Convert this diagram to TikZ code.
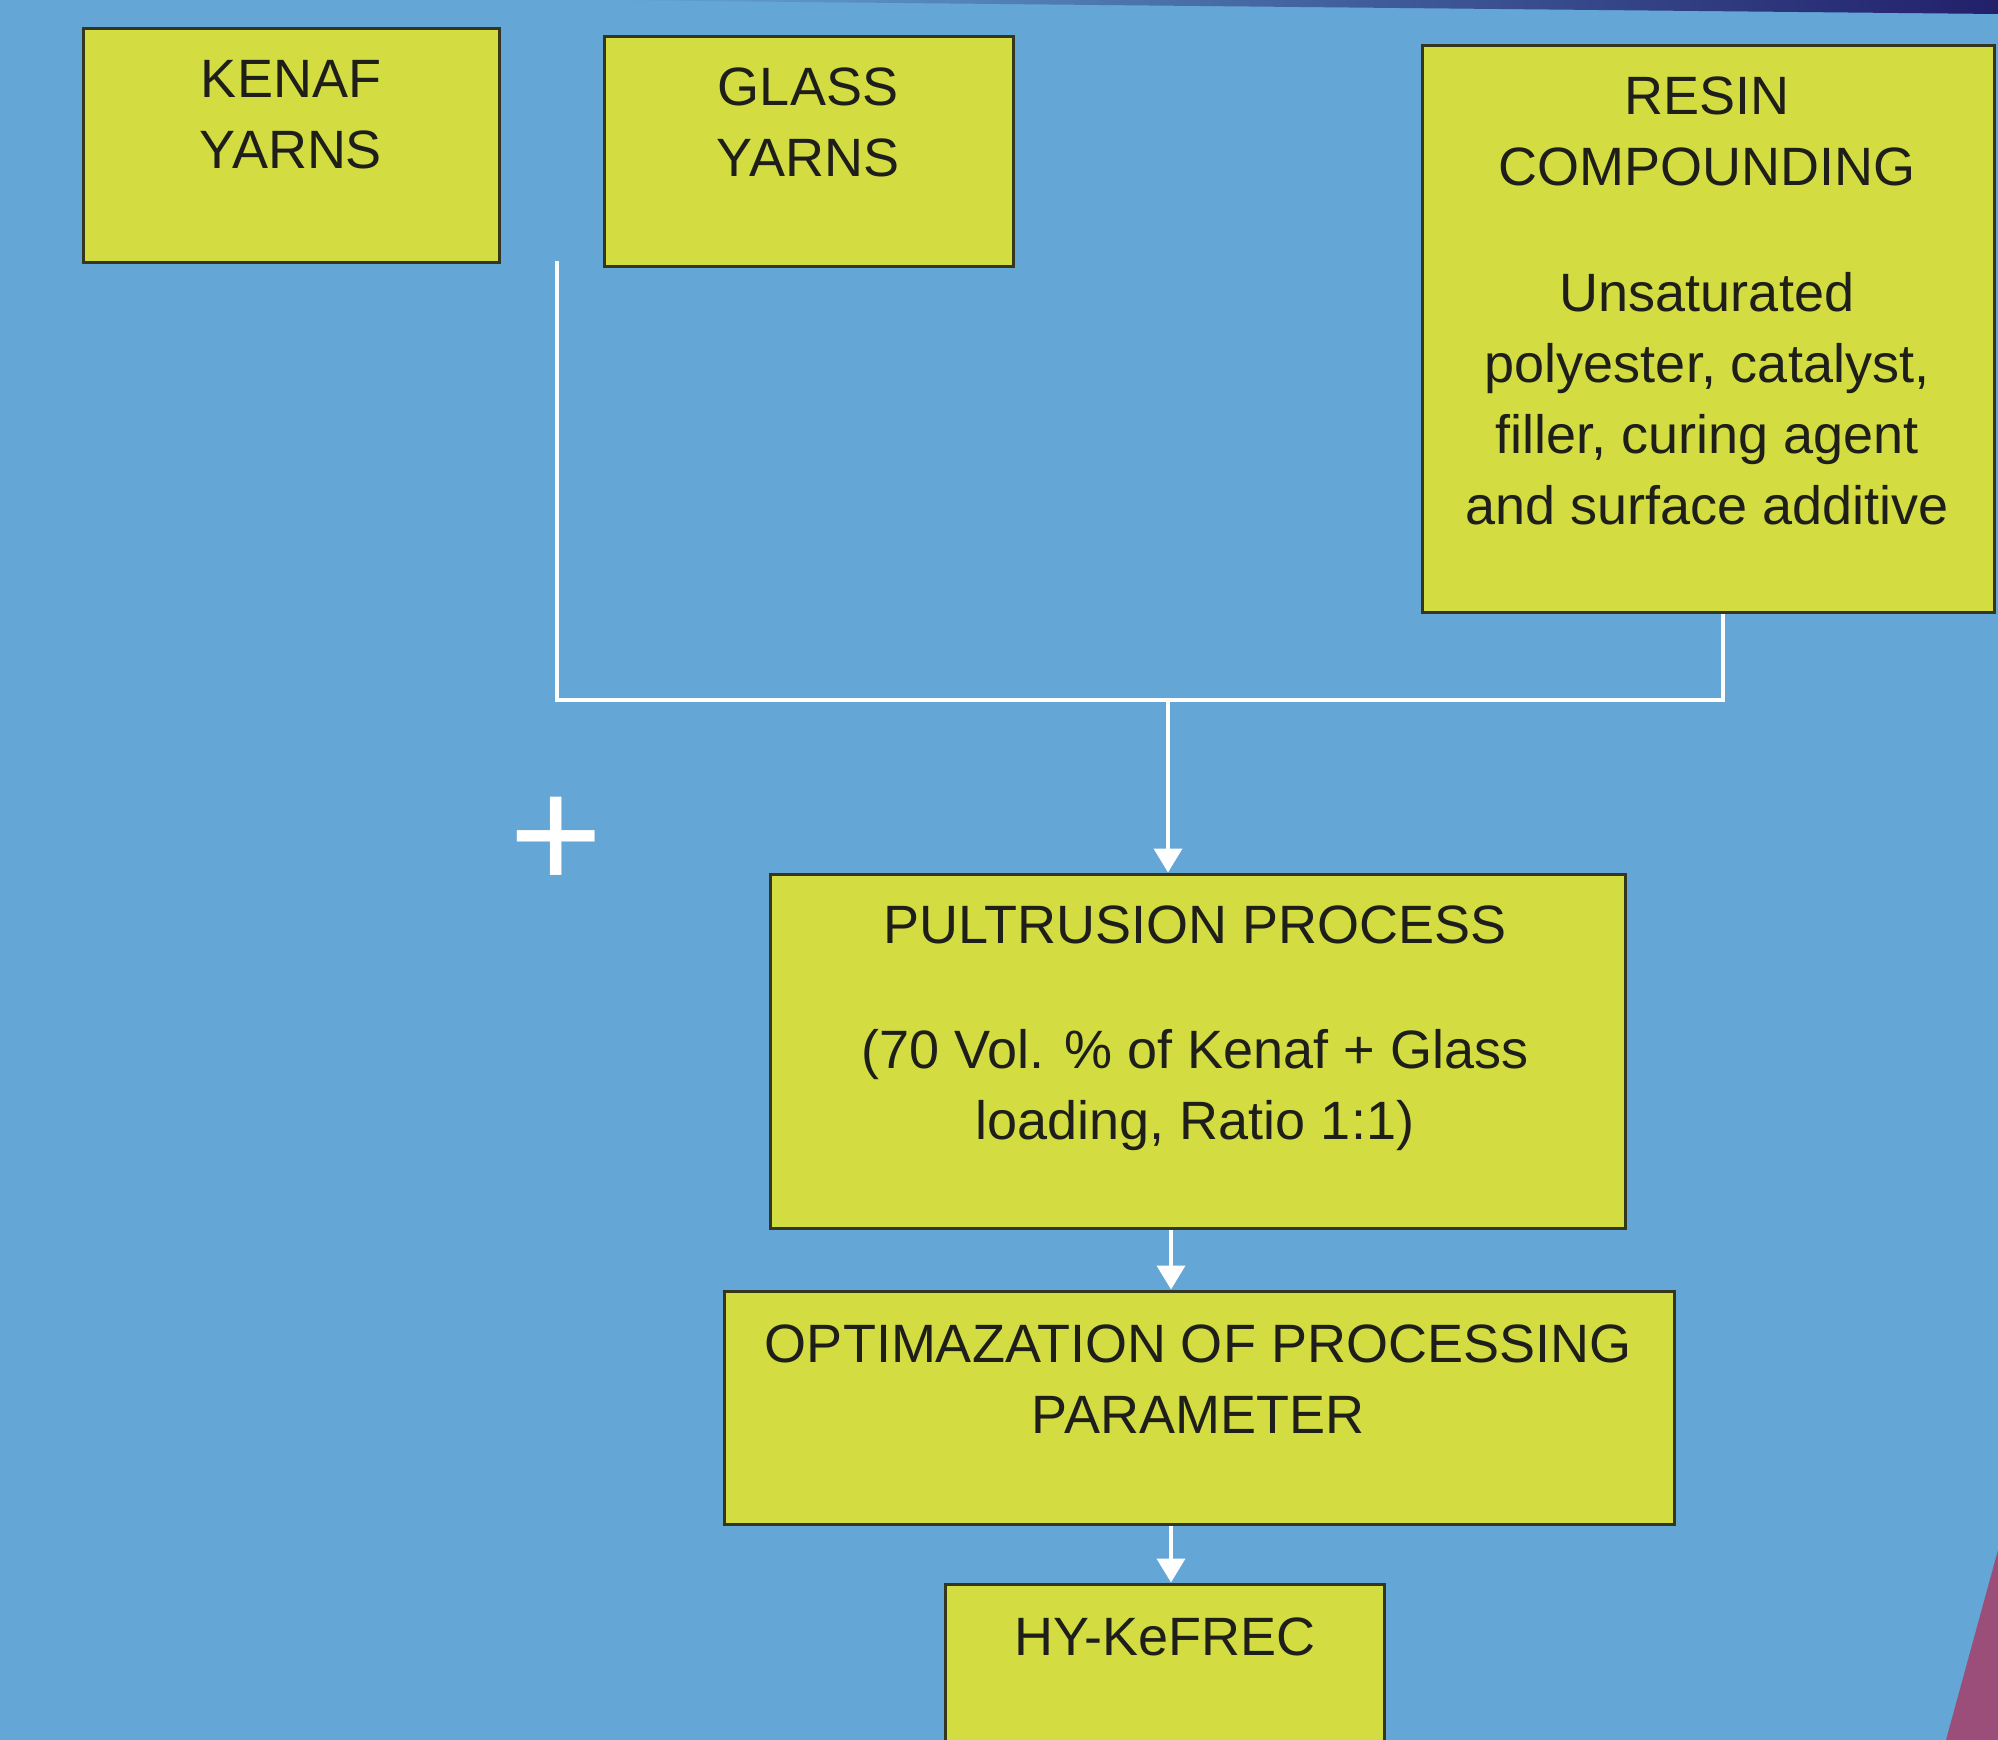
\documentclass[tikz,border=0pt]{standalone}
\usepackage{fontspec}
\setmainfont{Liberation Sans}
\usetikzlibrary{arrows.meta,calc}
\definecolor{bg}{HTML}{64A6D6}
\definecolor{navy}{HTML}{22206A}
\definecolor{boxfill}{HTML}{D3DC40}
\definecolor{boxline}{HTML}{34361E}
\definecolor{textc}{HTML}{1E1E1A}
\definecolor{pinkish}{HTML}{9B4E7A}
\begin{document}
\begin{tikzpicture}[x=0.5pt,y=-0.5pt,
  box/.style={draw=boxline, fill=boxfill, line width=1.5pt, inner sep=0pt},
  txt/.style={text=textc, font=\fontsize{27}{35.5}\selectfont, align=center, inner sep=0pt},
  wire/.style={draw=white, line width=2pt},
  arr/.style={wire, -{Triangle[width=14pt,length=12pt]}}]
\clip (0,0) rectangle (1998,1740);
\fill[bg] (0,0) rectangle (1998,1740);
\shade[left color=bg, right color=navy] (600,0) -- (1998,0) -- (1998,14) -- cycle;
\fill[pinkish] (1998,1550) -- (1998,1740) -- (1946,1740) -- cycle;

% boxes
\node[box, minimum width=208pt, minimum height=117pt] (kenaf) at (291,145) {};
\node[box, minimum width=204.5pt, minimum height=115pt] (glass) at (808.5,151) {};
\node[box, minimum width=286pt, minimum height=283.5pt] (resin) at (1708,328.5) {};
\node[box, minimum width=427.5pt, minimum height=177pt] (pult) at (1197.5,1051) {};
\node[box, minimum width=475pt, minimum height=116.5pt] (opt) at (1199,1407.5) {};
\node[box, minimum width=219.5pt, minimum height=88pt] (hy) at (1164.5,1672) {};

% texts
\node[txt] (kenaft) at (291,114.5) {KENAF\\YARNS};
\node[txt] (glasst) at (808,122.5) {GLASS\\YARNS};
\node[txt] (resint) at (1707,131.5) {RESIN\\COMPOUNDING};
\node[txt] (resinb) at (1707,399) {Unsaturated\\polyester, catalyst,\\filler, curing agent\\and surface additive};
\node[txt] (pultt) at (1195,925) {PULTRUSION PROCESS};
\node[txt] (pultb) at (1195,1090) {(70 Vol. \% of Kenaf + Glass\\loading, Ratio 1:1)};
\node[txt] (optt) at (1198,1379.5) {OPTIMAZATION OF PROCESSING\\PARAMETER};
\node[txt] (hyt) at (1165,1637) {HY-KeFREC};
\node[text=white, font=\fontsize{80}{80}\selectfont, inner sep=0pt] (plus) at (556,843) {+};

% connectors
\coordinate (yarns) at (557,261);
\coordinate (join) at (1168,700);
\coordinate (axis) at (1171,0);
\draw[wire] (yarns) |- (join) -| ($(resin.south)+(15,0)$);
\draw[arr] (join) -- (pult.north -| join);
\draw[arr] (pult.south -| axis) -- (opt.north -| axis);
\draw[arr] (opt.south -| axis) -- (hy.north -| axis);
\end{tikzpicture}
\end{document}
